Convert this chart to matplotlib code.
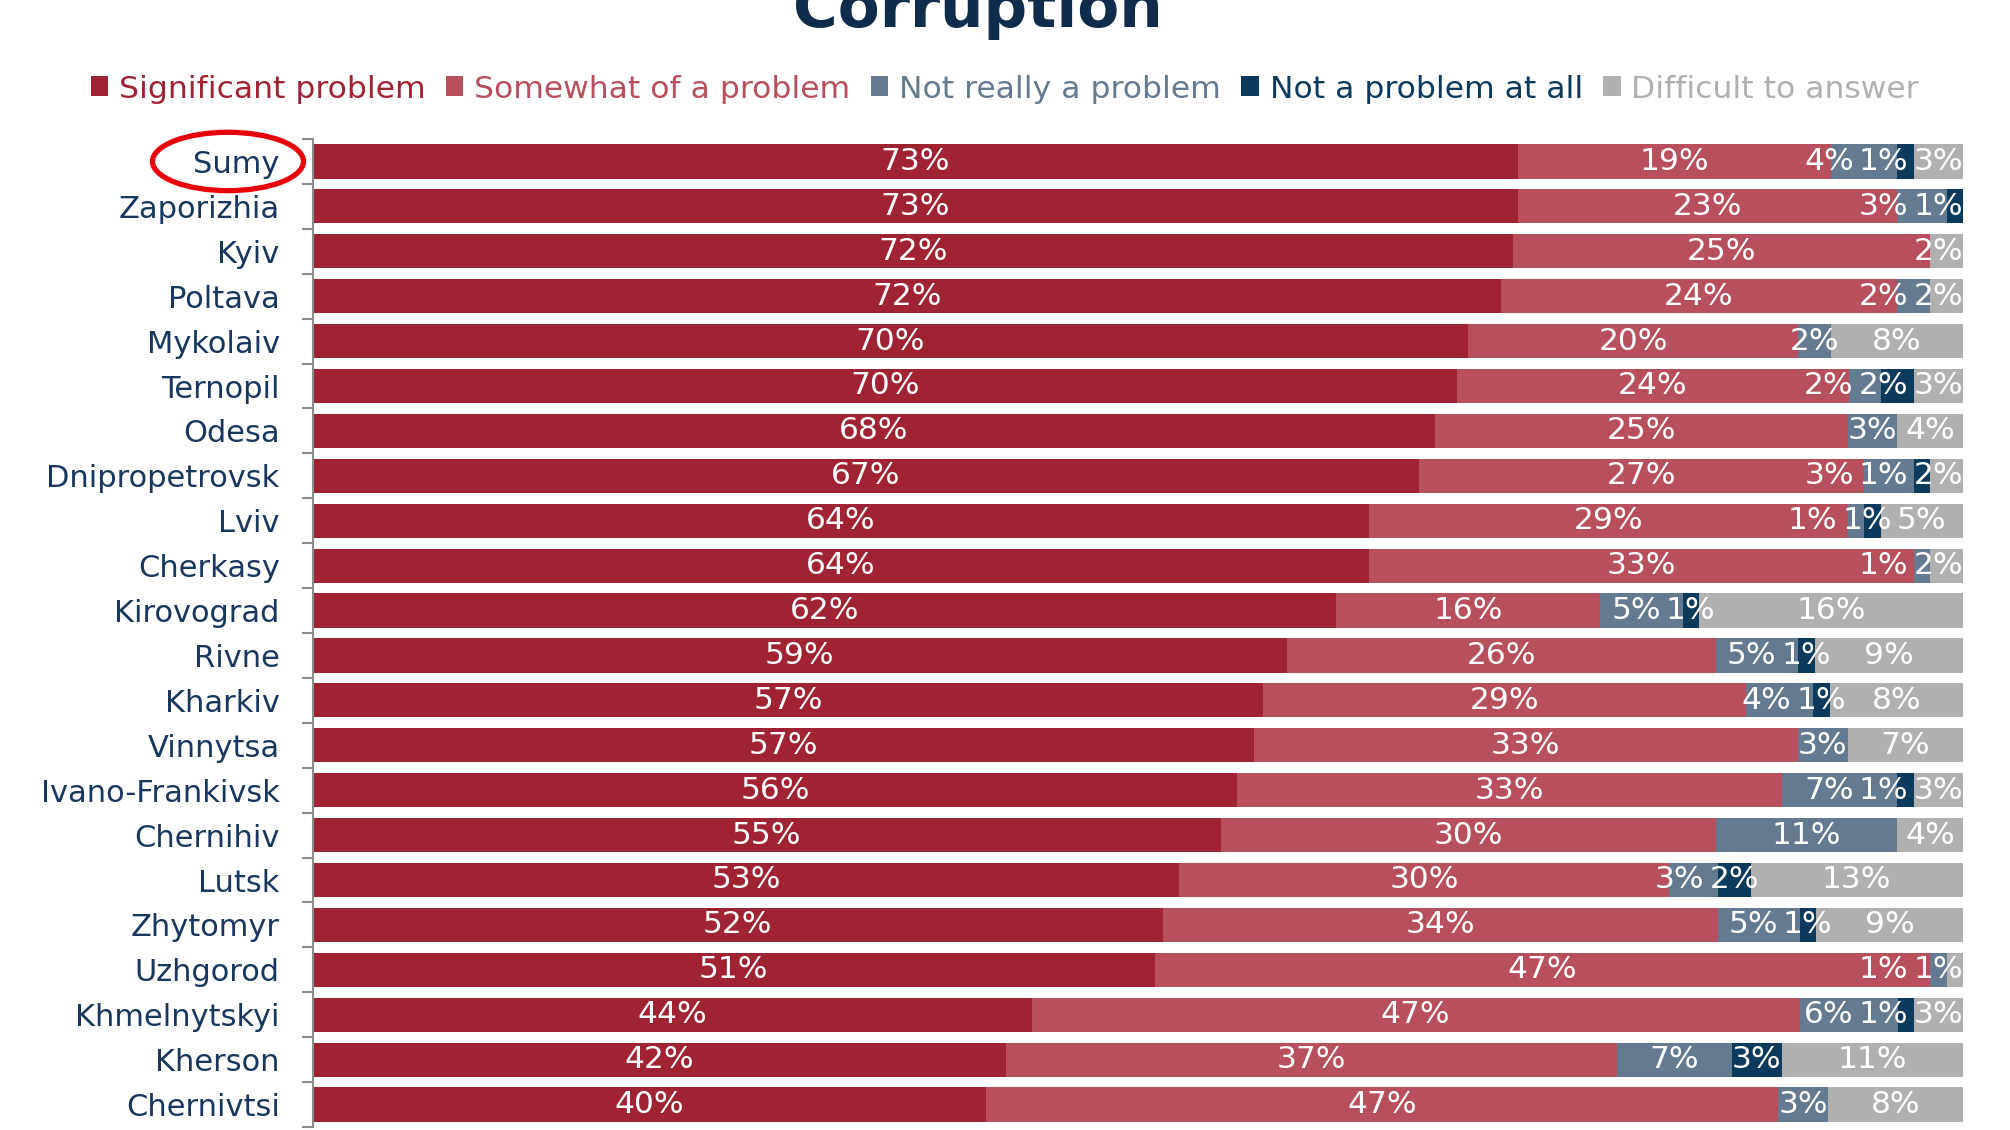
import matplotlib
matplotlib.use('Agg')
import matplotlib.pyplot as plt
import numpy as np
from matplotlib.patches import Patch, Ellipse
from matplotlib.transforms import blended_transform_factory

cities = ["Sumy", "Zaporizhia", "Kyiv", "Poltava", "Mykolaiv", "Ternopil", "Odesa",
          "Dnipropetrovsk", "Lviv", "Cherkasy", "Kirovograd", "Rivne", "Kharkiv",
          "Vinnytsa", "Ivano-Frankivsk", "Chernihiv", "Lutsk", "Zhytomyr", "Uzhgorod",
          "Khmelnytskyi", "Kherson", "Chernivtsi"]
significant = [73, 73, 72, 72, 70, 70, 68, 67, 64, 64, 62, 59, 57, 57, 56, 55, 53, 52, 51, 44, 42, 40]
somewhat = [19, 23, 25, 24, 20, 24, 25, 27, 29, 33, 16, 26, 29, 33, 33, 30, 30, 34, 47, 47, 37, 47]
not_really = [4, 3, 0, 2, 2, 2, 3, 3, 1, 1, 5, 5, 4, 3, 7, 11, 3, 5, 1, 6, 7, 3]
not_at_all = [1, 1, 0, 0, 0, 2, 0, 1, 1, 0, 1, 1, 1, 0, 1, 0, 2, 1, 0, 1, 3, 0]
difficult = [3, 0, 2, 2, 8, 3, 4, 2, 5, 2, 16, 9, 8, 7, 3, 4, 13, 9, 1, 3, 11, 8]
series_names = ["Significant problem", "Somewhat of a problem", "Not really a problem",
                "Not a problem at all", "Difficult to answer"]
colors = ["#A02334", "#B74F5D", "#647A91", "#0B3A5C", "#B0B0B0"]
navy = "#17375E"
title = "Corruption"
highlight = "Sumy"

plt.rcParams['font.family'] = ['DejaVu Sans']

W, H = 2010, 1130
fig = plt.figure(figsize=(W / 100, H / 100), dpi=100)
ax_l, ax_r, ax_t, ax_b = 313, 1963, 139, 1127
ax = fig.add_axes([ax_l / W, 1 - ax_b / H, (ax_r - ax_l) / W, (ax_b - ax_t) / H])

data = np.array([significant, somewhat, not_really, not_at_all, difficult], float)
shares = data / data.sum(axis=0) * 100
y = np.arange(len(cities))
left = np.zeros(len(cities))
lefts = []
for k in range(len(series_names)):
    lefts.append(left.copy())
    ax.barh(y, shares[k], left=left, height=0.76, color=colors[k], edgecolor='none',
            label=series_names[k])
    left += shares[k]

ax.set_xlim(0, 100)
ax.set_ylim(len(cities) - 0.5, -0.5)
ax.set_xticks([])
for s in ['top', 'right', 'bottom']:
    ax.spines[s].set_visible(False)
ax.spines['left'].set_color('#8C8C8C')
ax.spines['left'].set_linewidth(1.5)
ax.set_yticks(y)
ax.set_yticklabels(cities)
ax.tick_params(axis='y', which='major', length=0, pad=24, labelsize=22, labelcolor=navy)
ax.set_yticks(np.arange(len(cities) + 1) - 0.5, minor=True)
ax.tick_params(axis='y', which='minor', length=8, width=1.5, color='#8C8C8C')

# value labels with simple collision avoidance
renderer = fig.canvas.get_renderer()
px_per_unit = (ax_r - ax_l) / 100.0
gap = 5 / px_per_unit
for i in range(len(cities)):
    texts, centers, widths = [], [], []
    for k in range(len(series_names)):
        v = data[k, i]
        if v <= 0:
            continue
        c = lefts[k][i] + shares[k, i] / 2
        t = ax.text(c, i, f"{int(v)}%", ha='center', va='center', color='white', fontsize=22.5)
        bb = t.get_window_extent(renderer=renderer)
        texts.append(t)
        centers.append(c)
        widths.append(bb.width / px_per_unit)
    right_lim = 100 - widths[-1] / 2
    centers[-1] = min(centers[-1], right_lim)
    for j in range(len(texts) - 2, -1, -1):
        mx = centers[j + 1] - (widths[j] + widths[j + 1]) / 2 - gap
        centers[j] = min(centers[j], mx)
    for t, c in zip(texts, centers):
        t.set_x(c)

# highlight ellipse around the first label
idx = cities.index(highlight)
tr = blended_transform_factory(ax.transAxes, ax.transData)
ax.add_patch(Ellipse((-(ax_l - 228) / (ax_r - ax_l), idx), 151 / (ax_r - ax_l), 1.3,
                     fill=False, ec='#E8000B', lw=3.8, transform=tr, clip_on=False))

handles = [Patch(facecolor=c, edgecolor='none') for c in colors]
fig.legend(handles, series_names, loc='center', bbox_to_anchor=(0.5, 1 - 89 / H), ncol=5,
           frameon=False, fontsize=22.6, handlelength=0.55, handleheight=0.6,
           handletextpad=0.35, columnspacing=0.65, labelcolor=colors, borderaxespad=0)

fig.text(978 / W, 1 - 27 / H, title, ha='center', va='baseline', fontsize=44,
         fontweight='bold', color='#0F2C4C')

fig.savefig('out.png', dpi=100)
